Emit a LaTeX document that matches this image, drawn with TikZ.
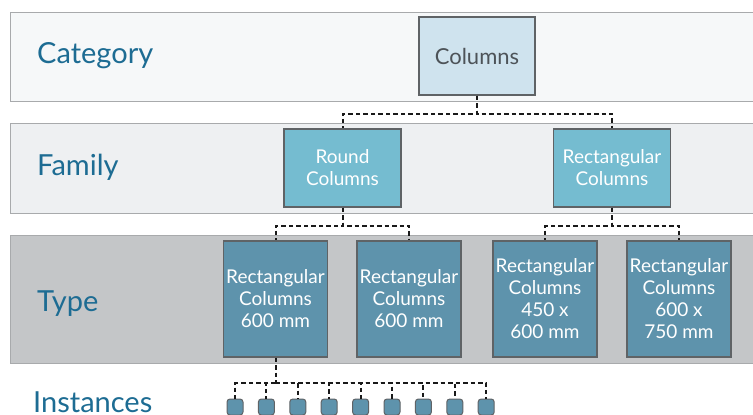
\documentclass[tikz,border=0pt]{standalone}
\usepackage{fontspec}
\setmainfont{Lato}
\usetikzlibrary{positioning}

\definecolor{catband}{HTML}{F6F8F9}
\definecolor{famband}{HTML}{EEF0F2}
\definecolor{typeband}{HTML}{C4C6C8}
\definecolor{bandline}{HTML}{A8AAAC}
\definecolor{catfill}{HTML}{CFE3EE}
\definecolor{famfill}{HTML}{75BCD0}
\definecolor{typefill}{HTML}{5E93AC}
\definecolor{boxline}{HTML}{5F6366}
\definecolor{levelblue}{HTML}{1D6C93}
\definecolor{cattext}{HTML}{4D5358}

\begin{document}
\begin{tikzpicture}[x=1pt,y=-1pt,
  band/.style={draw=bandline,line width=0.8pt},
  level/.style={anchor=base west,text=levelblue,font=\fontsize{29}{34}\selectfont,inner sep=0pt},
  colbox/.style={draw=boxline,line width=1.3pt,align=center,inner sep=1pt,
    font=\fontsize{19}{22}\selectfont},
  catbox/.style={colbox,fill=catfill,text=cattext,minimum width=116pt,minimum height=78pt,
    font=\fontsize{22}{26}\selectfont},
  fambox/.style={colbox,fill=famfill,text=white,minimum width=117pt,minimum height=78pt},
  typebox/.style={colbox,fill=typefill,text=white,minimum width=104pt,minimum height=116pt},
  inst/.style={draw=boxline,line width=1pt,fill=typefill,rounded corners=3pt,
    minimum size=16pt,inner sep=0pt},
  conn/.style={draw=black!90,line width=2pt,dash pattern=on 4.5pt off 3pt}]
\useasboundingbox (0,0) rectangle (753,415);

% Bands for each level
\fill[white] (0,0) rectangle (753,415);
\draw[band,fill=catband] (760,12) -- (10,12) -- (10,101) -- (760,101);
\draw[band,fill=famband] (760,123) -- (10,123) -- (10,213) -- (760,213);
\draw[band,fill=typeband] (760,235) -- (10,235) -- (10,363) -- (760,363);

% Level names
\node[level] (lcat) at (37,63) {Category};
\node[level] (lfam) at (37,175) {Family};
\node[level] (ltype) at (37,311) {Type};
\node[level] (linst) at (33,412) {Instances};

% Category
\node[catbox] (cols) at (477,56) {Columns};

% Families
\node[fambox] (round) at (342.5,168) {Round\\Columns};
\node[fambox] (rect) at (612,168) {Rectangular\\Columns};

% Types
\node[typebox] (t1) at (275.5,299) {Rectangular\\Columns\\600 mm};
\node[typebox] (t2) at (409,299) {Rectangular\\Columns\\600 mm};
\node[typebox] (t3) at (545,299) {Rectangular\\Columns\\450 x\\600 mm};
\node[typebox] (t4) at (679,299) {Rectangular\\Columns\\600 x\\750 mm};

% Instances
\foreach \i in {1,...,9}
  \node[inst] (i\i) at ({235+31.4*(\i-1)},407) {};

% Connectors
\draw[conn] (cols.south) -- ++(0,18) -| (round.north);
\draw[conn] (cols.south) -- ++(0,18) -| (rect.north);
\draw[conn] (round.south) -- ++(0,18) -| (t1.north);
\draw[conn] (round.south) -- ++(0,18) -| (t2.north);
\draw[conn] (rect.south) -- ++(0,18) -| (t3.north);
\draw[conn] (rect.south) -- ++(0,18) -| (t4.north);
\coordinate (ijoin) at (t1.south |- 0,383);
\draw[conn] (t1.south) -- (ijoin);
\foreach \i in {1,...,9}
  \draw[conn] (ijoin) -| (i\i.north);
\end{tikzpicture}
\end{document}
